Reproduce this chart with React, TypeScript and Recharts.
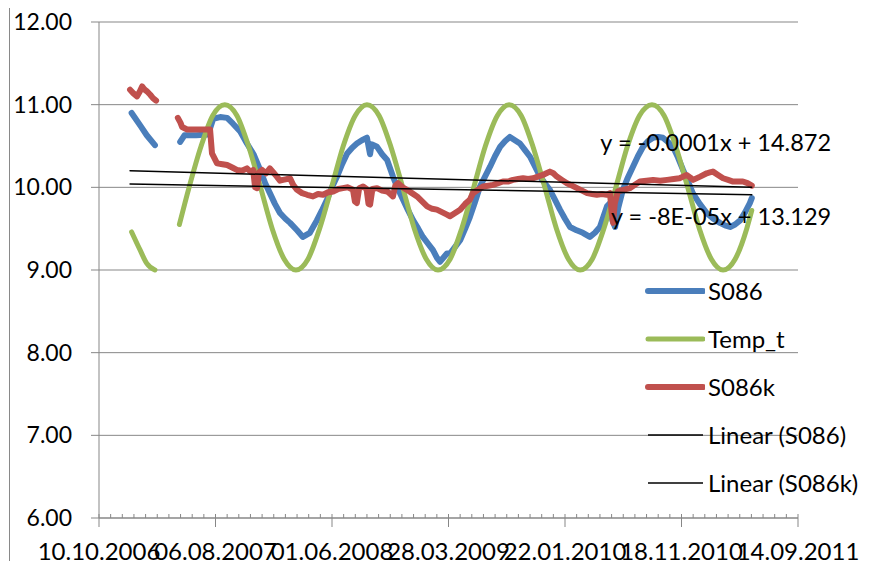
import React from "react";
import { LineChart, Line, XAxis, YAxis, CartesianGrid, Legend, ReferenceDot } from "recharts";

// x values are Excel day serials (39000 = 10.10.2006)
const xTicks = [39000, 39300, 39600, 39900, 40200, 40500, 40800];
const xTickLabels = ["10.10.2006", "06.08.2007", "01.06.2008", "28.03.2009", "22.01.2010", "18.11.2010", "14.09.2011"];
const yTicks = [6, 7, 8, 9, 10, 11, 12];

const s086: [number, number | null][] = [
  [39084, 10.9], [39106, 10.75], [39123, 10.63], [39144, 10.51], [39175, null],
  [39209, 10.55], [39220, 10.63], [39250, 10.63], [39281, 10.64], [39294, 10.83], [39312, 10.85], [39330, 10.84],
  [39345, 10.77], [39363, 10.68], [39381, 10.53], [39398, 10.4], [39415, 10.21], [39428, 10.05], [39440, 9.93],
  [39453, 9.8], [39466, 9.69], [39480, 9.62], [39492, 9.57], [39510, 9.48], [39525, 9.4], [39543, 9.45],
  [39561, 9.6], [39574, 9.72], [39587, 9.85], [39600, 10.0], [39613, 10.13], [39626, 10.28], [39639, 10.41],
  [39652, 10.48], [39664, 10.53], [39677, 10.57], [39690, 10.6], [39694, 10.5], [39698, 10.4], [39702, 10.52],
  [39716, 10.49], [39729, 10.4], [39742, 10.33], [39757, 10.13], [39770, 9.98], [39783, 9.85], [39796, 9.72],
  [39809, 9.6], [39822, 9.5], [39834, 9.4], [39847, 9.32], [39860, 9.24], [39870, 9.15], [39878, 9.1],
  [39896, 9.2], [39904, 9.2], [39917, 9.28], [39930, 9.36], [39943, 9.5], [39955, 9.64], [39968, 9.82],
  [39981, 10.01], [39994, 10.13], [40007, 10.25], [40020, 10.38], [40033, 10.49], [40046, 10.56], [40058, 10.61],
  [40071, 10.57], [40084, 10.53], [40097, 10.45], [40110, 10.37], [40123, 10.25], [40136, 10.13], [40148, 10.05],
  [40161, 9.97], [40174, 9.85], [40187, 9.73], [40200, 9.62], [40213, 9.52], [40230, 9.48], [40246, 9.45],
  [40264, 9.4], [40277, 9.45], [40290, 9.52], [40300, 9.66], [40308, 9.77], [40316, 9.81], [40322, 9.6],
  [40329, 9.52], [40337, 9.75], [40349, 9.97], [40362, 10.12], [40375, 10.25], [40388, 10.38], [40401, 10.49],
  [40414, 10.56], [40427, 10.6], [40440, 10.61], [40452, 10.6], [40465, 10.55], [40478, 10.49], [40491, 10.36],
  [40504, 10.21], [40517, 10.07], [40529, 9.93], [40547, 9.8], [40565, 9.69], [40582, 9.62], [40599, 9.57],
  [40612, 9.54], [40625, 9.52], [40638, 9.55], [40651, 9.6], [40664, 9.7], [40676, 9.81], [40681, 9.87],
];

const tempT: [number, number | null][] = [
  [39084, 9.46], [39106, 9.24], [39123, 9.08], [39144, 9.0], [39175, null],
  [39207, 9.55], [39232, 10.0], [39263, 10.5], [39293, 10.87], [39324, 11.0], [39355, 10.87], [39385, 10.5],
  [39416, 10.0], [39446, 9.5], [39477, 9.13], [39507, 9.0], [39538, 9.13], [39568, 9.5], [39599, 10.0],
  [39629, 10.5], [39660, 10.87], [39690, 11.0], [39721, 10.87], [39751, 10.5], [39782, 10.0], [39812, 9.5],
  [39843, 9.13], [39873, 9.0], [39904, 9.13], [39934, 9.5], [39965, 10.0], [39995, 10.5], [40026, 10.87],
  [40056, 11.0], [40087, 10.87], [40117, 10.5], [40148, 10.0], [40178, 9.5], [40209, 9.13], [40239, 9.0],
  [40270, 9.13], [40300, 9.5], [40331, 10.0], [40361, 10.5], [40392, 10.87], [40424, 11.0], [40455, 10.87],
  [40485, 10.5], [40516, 10.0], [40546, 9.5], [40577, 9.13], [40607, 9.0], [40638, 9.13], [40668, 9.5],
  [40681, 9.72],
];

const s086k: [number, number | null][] = [
  [39080, 11.18], [39088, 11.14], [39098, 11.1], [39105, 11.16], [39111, 11.22], [39118, 11.18], [39124, 11.16],
  [39132, 11.12], [39139, 11.08], [39147, 11.05], [39175, null],
  [39203, 10.84], [39210, 10.78], [39214, 10.73], [39227, 10.7], [39260, 10.7], [39286, 10.7], [39291, 10.41],
  [39304, 10.29], [39318, 10.28], [39330, 10.27], [39343, 10.24], [39355, 10.21], [39368, 10.2], [39381, 10.23],
  [39390, 10.19], [39397, 10.21], [39402, 10.0], [39407, 9.99], [39412, 10.18], [39420, 10.21], [39430, 10.17],
  [39440, 10.23], [39449, 10.18], [39458, 10.13], [39466, 10.08], [39474, 10.09], [39483, 10.1], [39492, 10.11],
  [39500, 10.03], [39510, 9.97], [39523, 9.93], [39536, 9.91], [39551, 9.89], [39564, 9.92], [39577, 9.91],
  [39590, 9.94], [39603, 9.95], [39616, 9.98], [39628, 9.99], [39641, 10.0], [39654, 9.97], [39659, 9.83],
  [39664, 9.81], [39670, 9.99], [39680, 10.01], [39689, 9.98], [39694, 9.8], [39698, 9.79], [39704, 9.98],
  [39716, 9.99], [39729, 9.96], [39742, 9.95], [39750, 9.92], [39757, 9.89], [39763, 10.02], [39770, 10.05],
  [39782, 10.0], [39793, 9.97], [39806, 9.93], [39819, 9.89], [39832, 9.83], [39845, 9.77], [39858, 9.74],
  [39870, 9.73], [39883, 9.7], [39896, 9.67], [39904, 9.65], [39917, 9.69], [39930, 9.73], [39943, 9.8],
  [39955, 9.85], [39963, 9.93], [39976, 9.97], [39989, 10.01], [40002, 10.02], [40015, 10.03], [40028, 10.05],
  [40040, 10.07], [40053, 10.07], [40066, 10.09], [40079, 10.1], [40092, 10.11], [40105, 10.1], [40118, 10.11],
  [40130, 10.13], [40143, 10.15], [40152, 10.17], [40161, 10.19], [40170, 10.17], [40179, 10.13], [40192, 10.09],
  [40205, 10.05], [40218, 10.02], [40231, 9.99], [40244, 9.96], [40257, 9.93], [40270, 9.92], [40282, 9.91],
  [40295, 9.92], [40308, 9.91], [40316, 9.93], [40320, 9.7], [40324, 9.57], [40328, 9.8], [40336, 9.95],
  [40350, 9.97], [40367, 9.99], [40380, 10.03], [40393, 10.07], [40410, 10.08], [40427, 10.09], [40445, 10.08],
  [40463, 10.09], [40480, 10.1], [40495, 10.11], [40504, 10.13], [40513, 10.15], [40522, 10.12], [40530, 10.09],
  [40548, 10.13], [40565, 10.17], [40573, 10.18], [40581, 10.19], [40594, 10.15], [40607, 10.11], [40620, 10.09],
  [40633, 10.07], [40646, 10.07], [40658, 10.07], [40670, 10.05], [40681, 10.02],
];

const trendS086: [number, number][] = [[39080, 10.2], [40681, 10.0]];
const trendS086k: [number, number][] = [[39080, 10.04], [40681, 9.91]];

const equationS086 = "y = -0.0001x + 14.872";
const equationS086k = "y = -8E-05x + 13.129";

const FONT = "Lato, 'Open Sans', sans-serif";
const GRID = "#878787";

const rows = (pts: [number, number | null][]) => pts.map(([x, y]) => ({ x, y }));

const series = [
  { name: "S086", data: rows(s086), color: "#4A7EBB", width: 6, type: "linear" },
  { name: "Temp_t", data: rows(tempT), color: "#9BBB59", width: 5, type: "monotone" },
  { name: "S086k", data: rows(s086k), color: "#C0504D", width: 6, type: "linear" },
  { name: "Linear (S086)", data: rows(trendS086), color: "#000000", width: 1.5, type: "linear" },
  { name: "Linear (S086k)", data: rows(trendS086k), color: "#000000", width: 1.5, type: "linear" },
];

const minorTicks = Array.from({ length: 61 }, (_, i) => 39000 + i * 30);

const XTick = (props: any) => {
  const { x, y, payload } = props;
  const idx = xTicks.indexOf(payload.value);
  if (idx < 0) {
    return <line x1={x} x2={x} y1={y - 4} y2={y} stroke={GRID} />;
  }
  return (
    <g>
      <line x1={x} x2={x} y1={y - 4} y2={y + 9} stroke={GRID} />
      <text x={x} y={y + 42} textAnchor="middle" fontSize={24} fill="#000" fontFamily={FONT}>
        {xTickLabels[idx]}
      </text>
    </g>
  );
};

const LegendBox = () => (
  <div style={{ fontFamily: FONT, fontSize: 24, color: "#000" }}>
    {series.map((s) => (
      <div key={s.name} style={{ height: 48, display: "flex", alignItems: "center" }}>
        <svg width={60} height={10}>
          <line x1={3} x2={58} y1={5} y2={5} stroke={s.color} strokeWidth={s.width} strokeLinecap={s.width > 2 ? "round" : "butt"} />
        </svg>
        <span style={{ marginLeft: 3, lineHeight: "24px" }}>{s.name}</span>
      </div>
    ))}
  </div>
);

export default function App() {
  return (
    <div style={{ position: "relative", width: 872, height: 569, margin: -8, overflow: "hidden", background: "#fff", fontFamily: FONT }}>
      <div style={{ position: "absolute", left: 9, top: 6, width: 900, height: 600, border: "1px solid #898989" }} />
      <div style={{ position: "absolute", left: 0, top: 0 }}>
        <LineChart width={872} height={569} margin={{ top: 22, right: 74, bottom: 11, left: 39 }}>
          <CartesianGrid vertical={false} stroke={GRID} />
          <XAxis
            dataKey="x"
            type="number"
            domain={[39000, 40800]}
            ticks={minorTicks}
            interval={0}
            tick={<XTick />}
            tickSize={0}
            tickMargin={0}
            tickLine={false}
            height={40}
            axisLine={{ stroke: GRID }}
            allowDuplicatedCategory={false}
          />
          <YAxis
            type="number"
            domain={[6, 12]}
            ticks={yTicks}
            interval={0}
            width={60}
            tickSize={8}
            tickMargin={19}
            tickFormatter={(v: number) => v.toFixed(2)}
            tick={{ fontSize: 23, fill: "#000", fontFamily: FONT }}
            axisLine={{ stroke: GRID }}
            tickLine={{ stroke: GRID }}
          />
          {series.map((s) => (
            <Line
              key={s.name}
              data={s.data}
              dataKey="y"
              name={s.name}
              type={s.type as any}
              stroke={s.color}
              strokeWidth={s.width}
              strokeLinecap="round"
              strokeLinejoin="round"
              dot={false}
              activeDot={false}
              connectNulls={false}
              isAnimationActive={false}
            />
          ))}
          <ReferenceDot
            x={40588}
            y={10.536}
            r={0}
            stroke="none"
            fill="none"
            label={{ value: equationS086, position: "center", fontSize: 23.5, fill: "#000", fontFamily: FONT }}
          />
          <ReferenceDot
            x={40602}
            y={9.64}
            r={0}
            stroke="none"
            fill="none"
            label={{ value: equationS086k, position: "center", fontSize: 23.5, fill: "#000", fontFamily: FONT }}
          />
          <Legend
            layout="vertical"
            align="center"
            verticalAlign="middle"
            content={<LegendBox />}
            wrapperStyle={{ left: 645, top: 267, width: 227, height: 240 }}
          />
        </LineChart>
      </div>
    </div>
  );
}
